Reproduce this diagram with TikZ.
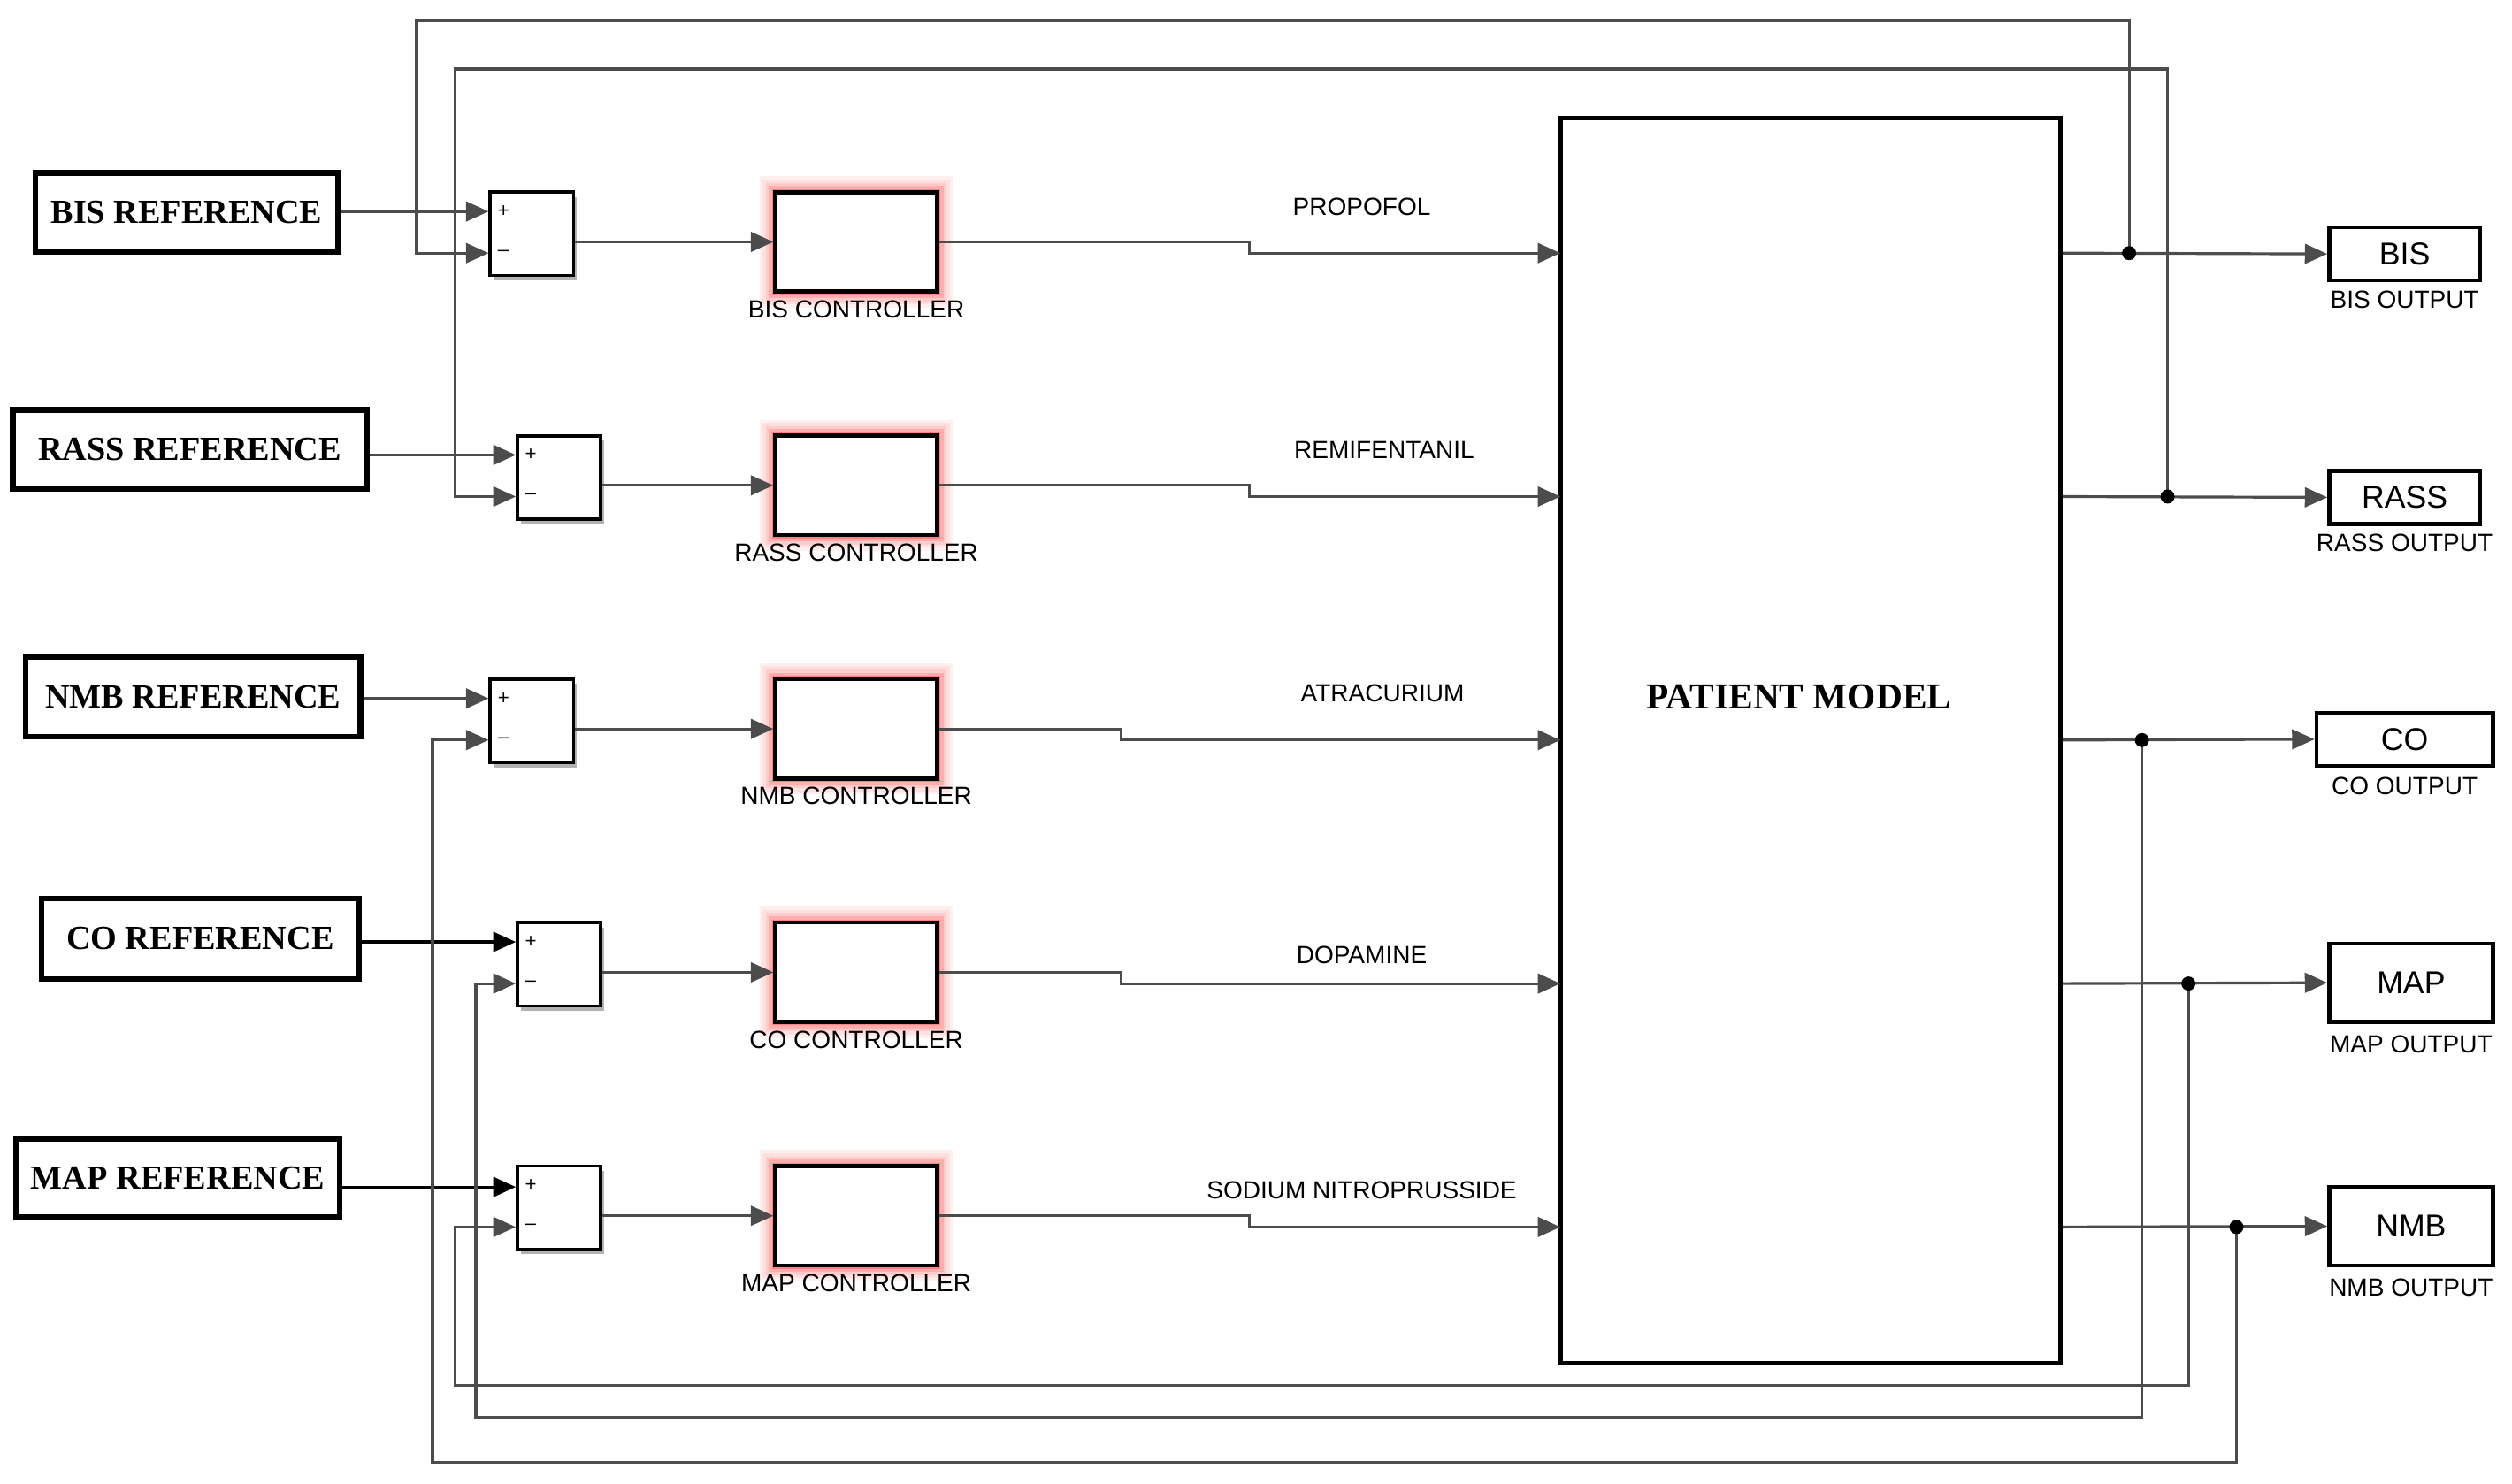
\documentclass[tikz,border=0pt]{standalone}
\usepackage{fontspec}
\setmainfont{Liberation Serif}
\newfontfamily\lsans{Liberation Sans}
\usetikzlibrary{arrows.meta}
\begin{document}
\begin{tikzpicture}[x=0.01cm,y=-0.01cm,
  refbox/.style={draw,line width=1pt,inner sep=0pt,font=\fontsize{6}{7}\selectfont\bfseries},
  sumbox/.style={draw,line width=0.6pt,fill=white,minimum width=0.52cm,minimum height=0.52cm,inner sep=0pt},
  ctrl/.style={draw,line width=0.7pt,fill=white,minimum width=1.01cm,minimum height=0.62cm,inner sep=0pt},
  lab/.style={font=\lsans\fontsize{4.4}{5}\selectfont},
  sg/.style={font=\lsans\fontsize{3.5}{4}\selectfont,inner sep=0pt},
  outbox/.style={draw,line width=0.7pt,inner sep=0pt,font=\lsans\fontsize{5.6}{6}\selectfont},
  wire/.style={draw=black!70,line width=0.5pt},
  arr/.style={wire,-{Triangle[length=4pt,width=3.5pt]}},
  dot/.style={circle,fill=black,inner sep=0pt,minimum size=2.5pt}]
\useasboundingbox (0,0) rectangle (1568,926);
% reference boxes
\node[refbox,minimum width=1.89cm,minimum height=0.49cm] (r1) at (116.5,132.5) {BIS REFERENCE};
\node[refbox,minimum width=2.21cm,minimum height=0.49cm] (r2) at (118.5,280.5) {RASS REFERENCE};
\node[refbox,minimum width=2.09cm,minimum height=0.50cm] (r3) at (120.5,435) {NMB REFERENCE};
\node[refbox,minimum width=1.98cm,minimum height=0.50cm] (r4) at (125,586) {CO REFERENCE};
\node[refbox,minimum width=2.02cm,minimum height=0.49cm] (r5) at (111,735.5) {MAP REFERENCE};
% sums and controllers
\foreach \i/\sx/\cy/\nm in {1/305/146/BIS,2/322/298/RASS,3/305/450/NMB,4/322/602/CO,5/322/754/MAP}{
  \fill[black!30] (\sx+3,\cy-23) rectangle (\sx+55,\cy+29);
  \node[sumbox,anchor=west] (s\i) at (\sx,\cy) {};
  \node[sg,anchor=west] at (\sx+5,\cy-14) {+};
  \node[sg,anchor=west] at (\sx+5,\cy+12) {\textendash};
  \fill[red!6] (474,\cy-36) rectangle (595,\cy+46);
  \fill[red!12] (476,\cy-34) rectangle (593,\cy+44);
  \fill[red!20] (478,\cy-32) rectangle (591,\cy+42);
  \fill[red!32] (480,\cy-30) rectangle (589,\cy+40);
  \fill[red!50] (482,\cy-28) rectangle (587,\cy+38);
  \node[ctrl] (c\i) at (534.5,\cy+5) {};
  \node[lab] at (534.5,\cy+47) {\nm{} CONTROLLER};
}
% patient
\node[draw,line width=0.8pt,minimum width=3.12cm,minimum height=7.77cm,inner sep=0pt] (p) at (1130,462.5) {};
\node[font=\fontsize{6.5}{7}\selectfont\bfseries] at (1123,435) {PATIENT MODEL};
% reference to sum +
\draw[arr] (r1.east|-0,132) -- (305,132);
\draw[arr] (r2.east|-0,284) -- (322,284);
\draw[arr] (r3.east|-0,436) -- (305,436);
\draw[arr,draw=black] (r4.east|-0,588) -- (322,588);
\draw[arr,draw=black] (r5.east|-0,741) -- (322,741);
% sum to controller
\foreach \i in {1,...,5}{\draw[arr] (s\i.east|-c\i.west) -- (c\i.west);}
% drugs
\draw[arr] (c1.east) -- (780,151) -- (780,158) -- (974,158);
\draw[arr] (c2.east) -- (780,303) -- (780,310) -- (974,310);
\draw[arr] (c3.east) -- (700,455) -- (700,462) -- (974,462);
\draw[arr] (c4.east) -- (700,607) -- (700,614) -- (974,614);
\draw[arr] (c5.east) -- (780,759) -- (780,766) -- (974,766);
\node[lab] at (850,129) {PROPOFOL};
\node[lab] at (864,281) {REMIFENTANIL};
\node[lab] at (863,433) {ATRACURIUM};
\node[lab] at (850,596) {DOPAMINE};
\node[lab] at (850,743) {SODIUM NITROPRUSSIDE};
% outputs
\node[outbox,minimum width=0.94cm,minimum height=0.33cm] (o1) at (1501,158.5) {BIS};
\node[outbox,minimum width=0.94cm,minimum height=0.33cm] (o2) at (1501,310.5) {RASS};
\node[outbox,minimum width=1.10cm,minimum height=0.33cm] (o3) at (1501,461.5) {CO};
\node[outbox,minimum width=1.02cm,minimum height=0.49cm] (o4) at (1505,613.5) {MAP};
\node[outbox,minimum width=1.02cm,minimum height=0.49cm] (o5) at (1505,765.5) {NMB};
\node[lab] at (1501,187) {BIS OUTPUT};
\node[lab] at (1501,339) {RASS OUTPUT};
\node[lab] at (1501,491) {CO OUTPUT};
\node[lab] at (1505,652) {MAP OUTPUT};
\node[lab] at (1505,804) {NMB OUTPUT};
\coordinate (d1) at (1329,158);
\coordinate (d2) at (1353,310);
\coordinate (d3) at (1337,462);
\coordinate (d4) at (1366,614);
\coordinate (d5) at (1396,766);
\draw[arr] (p.east|-0,158) -- (o1.west);
\draw[arr] (p.east|-0,310) -- (o2.west);
\draw[arr] (p.east|-0,462) -- (o3.west);
\draw[arr] (p.east|-0,614) -- (o4.west);
\draw[arr] (p.east|-0,766) -- (o5.west);
% feedback
\draw[arr] (d1) -- (1329,13) -- (260,13) -- (260,158) -- (305,158);
\draw[arr] (d2) -- (1353,43) -- (284,43) -- (284,310) -- (322,310);
\draw[arr] (d3) -- (1337,885) -- (297,885) -- (297,614) -- (322,614);
\draw[arr] (d4) -- (1366,865) -- (284,865) -- (284,766) -- (322,766);
\draw[arr] (d5) -- (1396,913) -- (270,913) -- (270,462) -- (305,462);
\foreach \i in {1,...,5}{\node[dot] at (d\i) {};}
\end{tikzpicture}
\end{document}
